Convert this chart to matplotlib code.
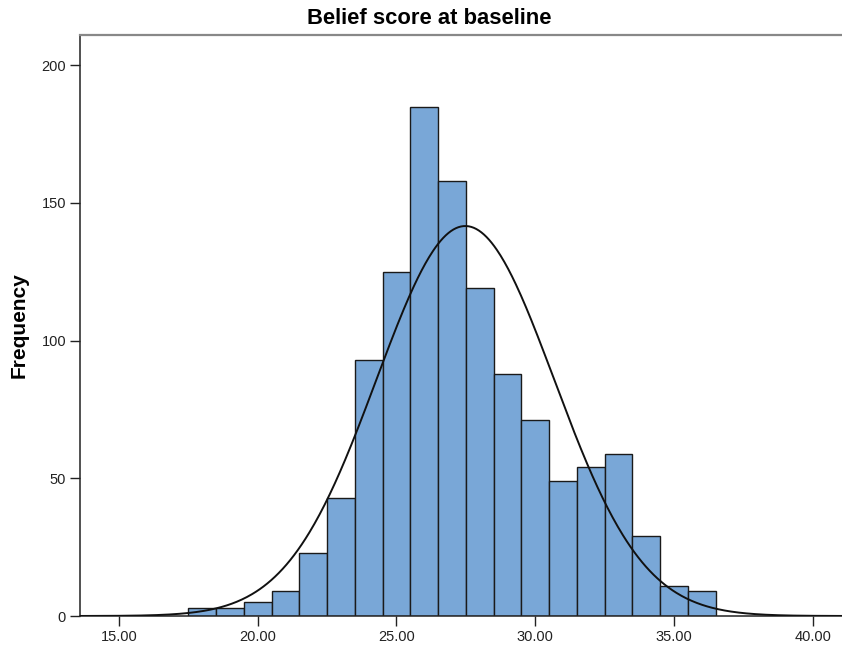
import numpy as np
import matplotlib
matplotlib.use("Agg")
import matplotlib.pyplot as plt

plt.rcParams['font.family'] = ['Liberation Sans', 'DejaVu Sans']

# Data
bin_left = [17.5, 18.5, 19.5, 20.5, 21.5, 22.5, 23.5, 24.5, 25.5, 26.5,
            27.5, 28.5, 29.5, 30.5, 31.5, 32.5, 33.5, 34.5, 35.5]
counts = [3, 3, 5, 9, 23, 43, 93, 125, 185, 158,
          119, 88, 71, 49, 54, 59, 29, 11, 9]
bin_width = 1.0
mean_val = 27.48
sd_val = 3.2
xticks = [15, 20, 25, 30, 35, 40]
xtick_labels = ["15.00", "20.00", "25.00", "30.00", "35.00", "40.00"]
yticks = [0, 50, 100, 150, 200]

fig = plt.figure(figsize=(8.42, 6.48), dpi=100)
ax = fig.add_axes([80/842, 32/648, 762/842, 581/648])

ax.bar(bin_left, counts, width=bin_width, align='edge',
       color='#79A7D7', edgecolor='#1a1a1a', linewidth=1.0, zorder=2)

n_total = sum(counts)
xs = np.linspace(13.6, 41.1, 600)
ys = n_total * bin_width / (sd_val * np.sqrt(2 * np.pi)) * np.exp(-0.5 * ((xs - mean_val) / sd_val) ** 2)
ax.plot(xs, ys, color='#111111', linewidth=1.4, zorder=3)

ax.set_xlim(13.6, 41.05)
ax.set_ylim(0, 211)
ax.set_xticks(xticks)
ax.set_xticklabels(xtick_labels)
ax.set_yticks(yticks)
ax.tick_params(axis='both', direction='out', length=7, width=1, labelsize=10.5, colors='#222222', pad=3)

for s in ['left', 'bottom']:
    ax.spines[s].set_color('#222222')
    ax.spines[s].set_linewidth(1.1)
ax.spines['top'].set_color('#888888')
ax.spines['top'].set_linewidth(1.6)
ax.spines['right'].set_visible(False)

fig.text(19/842, 1 - 325/648, 'Frequency', rotation=90, ha='center', va='center',
         fontsize=15, fontweight='bold')
fig.text(429/842, 1 - 19/648, 'Belief score at baseline', ha='center', va='center',
         fontsize=15.8, fontweight='bold')

fig.savefig('out.png', dpi=100)
